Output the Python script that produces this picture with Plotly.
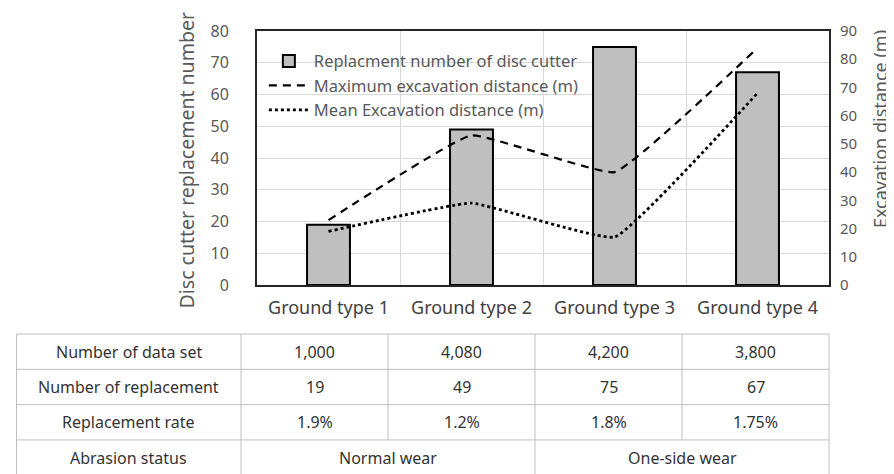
import plotly.graph_objects as go

categories = ["Ground type 1", "Ground type 2", "Ground type 3", "Ground type 4"]
replacement_number = [19, 49, 75, 67]
max_excavation = [23, 53, 40, 84]
mean_excavation = [19, 29, 17, 68]

row_labels = ["Number of data set", "Number of replacement", "Replacement rate", "Abrasion status"]
data_sets = ["1,000", "4,080", "4,200", "3,800"]
replacements = ["19", "49", "75", "67"]
rates = ["1.9%", "1.2%", "1.8%", "1.75%"]
abrasion = ["Normal wear", "One-side wear"]

FONT = "Noto Sans"
GRAY = "#595959"

W, H = 894, 474
L, R, T, B = 249, 821, 18, 277

fig = go.Figure()
fig.add_trace(go.Bar(
    x=categories, y=replacement_number, name="Replacment number of disc cutter",
    marker=dict(color="#bfbfbf", line=dict(color="#000000", width=2)),
    width=0.3, yaxis="y"))
fig.add_trace(go.Scatter(
    x=categories, y=max_excavation, name="Maximum excavation distance (m)",
    mode="lines", line=dict(color="#000000", width=2.2, dash="8px,6px", shape="spline", smoothing=0.3),
    yaxis="y2"))
fig.add_trace(go.Scatter(
    x=categories, y=mean_excavation, name="Mean Excavation distance (m)",
    mode="lines", line=dict(color="#000000", width=2.8, dash="dot", shape="spline", smoothing=0.3),
    yaxis="y2"))

def px_x(x):
    return (x - L) / (R - L)

def px_y(y):
    return (B - y) / (B - T)

shapes = []
annotations = []

# table geometry (pixels)
col_edges = [8.5, 233, 380, 527, 674, 821]
row_edges = [327, 363, 399, 435, 474]
LINE = dict(color="#bfbfbf", width=1)
for y in row_edges[:4]:
    shapes.append(dict(type="line", xref="paper", yref="paper",
                       x0=px_x(col_edges[0]), x1=px_x(col_edges[-1]), y0=px_y(y), y1=px_y(y), line=LINE))
for i, x in enumerate(col_edges):
    y_end = row_edges[3] if i in (2, 4) else row_edges[4]
    shapes.append(dict(type="line", xref="paper", yref="paper",
                       x0=px_x(x), x1=px_x(x), y0=px_y(row_edges[0]), y1=px_y(y_end), line=LINE))

rows = [data_sets, replacements, rates]
TF = dict(family=FONT, size=16, color="#333333")
for r in range(4):
    yc = (row_edges[r] + row_edges[r + 1]) / 2
    if r == 3:
        yc = (row_edges[3] + 471) / 2
    annotations.append(dict(text=row_labels[r], xref="paper", yref="paper",
                            x=px_x((col_edges[0] + col_edges[1]) / 2), y=px_y(yc),
                            showarrow=False, font=TF, xanchor="center", yanchor="middle"))
    if r < 3:
        for c in range(4):
            annotations.append(dict(text=rows[r][c], xref="paper", yref="paper",
                                    x=px_x((col_edges[c + 1] + col_edges[c + 2]) / 2), y=px_y(yc),
                                    showarrow=False, font=TF, xanchor="center", yanchor="middle"))
    else:
        for k in range(2):
            annotations.append(dict(text=abrasion[k], xref="paper", yref="paper",
                                    x=px_x((col_edges[1 + 2 * k] + col_edges[3 + 2 * k]) / 2), y=px_y(yc),
                                    showarrow=False, font=TF, xanchor="center", yanchor="middle"))

# axis titles
annotations.append(dict(text="Disc cutter replacement number", xref="paper", yref="paper",
                        x=px_x(178), y=px_y(150), textangle=-90, showarrow=False,
                        font=dict(family=FONT, size=19.5, color=GRAY), xanchor="center", yanchor="middle"))
annotations.append(dict(text="Excavation distance (m)", xref="paper", yref="paper",
                        x=px_x(872), y=px_y(118), textangle=-90, showarrow=False,
                        font=dict(family=FONT, size=18, color=GRAY), xanchor="center", yanchor="middle"))

fig.update_layout(
    width=W, height=H,
    margin=dict(l=L, r=W - R, t=T, b=H - B, pad=0),
    paper_bgcolor="white", plot_bgcolor="white",
    font=dict(family=FONT, color=GRAY),
    showlegend=True,
    legend=dict(x=0.012, y=0.95, xanchor="left", yanchor="top", bgcolor="rgba(0,0,0,0)",
                font=dict(family=FONT, size=16.5, color=GRAY), tracegroupgap=0, itemwidth=40),
    xaxis=dict(type="category", tickson="boundaries", showgrid=True, gridcolor="#d9d9d9",
               showline=True, linecolor="#262626", linewidth=2, mirror=True, ticks="",
               tickfont=dict(family=FONT, size=18, color="#404040"), ticklabelstandoff=5),
    yaxis=dict(range=[0, 80], dtick=10, showgrid=True, gridcolor="#d9d9d9", zeroline=False,
               showline=True, linecolor="#262626", linewidth=2, mirror=True, ticks="",
               tickfont=dict(family=FONT, size=16, color=GRAY), ticklabelstandoff=23),
    yaxis2=dict(range=[0, 90], dtick=10, overlaying="y", side="right", showgrid=False,
                zeroline=False, ticks="", tickfont=dict(family=FONT, size=15, color=GRAY),
                ticklabelstandoff=10),
    shapes=shapes, annotations=annotations,
    bargap=0.7,
)

fig.write_html("out.html")
